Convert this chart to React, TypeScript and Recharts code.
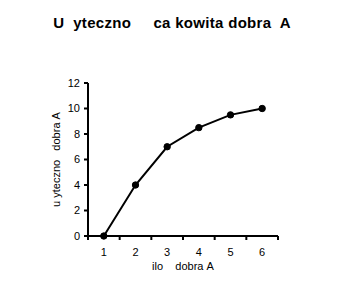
import { LineChart, Line, XAxis, YAxis } from 'recharts';

const quantities = [1, 2, 3, 4, 5, 6];
const utility = [0, 4, 7, 8.5, 9.5, 10];
const yTicks = [0, 2, 4, 6, 8, 10, 12];
const xTicks = [0.5, 1, 1.5, 2, 2.5, 3, 3.5, 4, 4.5, 5, 5.5, 6, 6.5];

const data = quantities.map((q, i) => ({ q, u: utility[i] }));

const font = '"Liberation Sans", Arial, sans-serif';
const nb = (s: string) => s.replace(/ /g, '\u00a0');

const XTick = (props: any) => {
  const { x, y, payload } = props;
  if (Number.isInteger(payload.value)) {
    return (
      <text x={x} y={y + 16} textAnchor="middle" fontSize={11} fontFamily={font} fill="#000">
        {payload.value}
      </text>
    );
  }
  return <line x1={x} x2={x} y1={y - 4} y2={y} stroke="#000" strokeWidth={2} />;
};

export default function App() {
  return (
    <div style={{ position: 'absolute', left: 0, top: 0, width: 344, height: 282, background: '#fff' }}>
      <div
        style={{
          position: 'absolute', left: 0, top: 14, width: 344, textAlign: 'center',
          fontFamily: font, fontWeight: 'bold', fontSize: 15, letterSpacing: 0.3,
          whiteSpace: 'pre', color: '#000', lineHeight: '17px',
        }}
      >
        {'U  yteczno     ca kowita dobra  A'}
      </div>
      <LineChart width={344} height={282} data={data} margin={{ top: 83, right: 66, left: 48, bottom: 16 }}>
        <XAxis
          dataKey="q"
          type="number"
          domain={[0.5, 6.5]}
          ticks={xTicks}
          interval={0}
          tickSize={4}
          tickMargin={0}
          tickLine={false}
          tick={<XTick />}
          height={30}
          axisLine={{ stroke: '#000', strokeWidth: 2 }}
          label={{ value: nb('ilo    dobra A'), position: 'insideBottom', offset: -4, fontSize: 11, fontFamily: font, fill: '#000' }}
        />
        <YAxis
          domain={[0, 12]}
          ticks={yTicks}
          width={40}
          tickSize={4}
          tickMargin={4}
          tick={{ fontSize: 11, fontFamily: font, fill: '#000' }}
          tickLine={{ stroke: '#000', strokeWidth: 2 }}
          axisLine={{ stroke: '#000', strokeWidth: 2 }}
          label={{ value: nb('u yteczno   dobra A'), angle: -90, position: 'insideLeft', offset: 8, fontSize: 11, fontFamily: font, fill: '#000', style: { textAnchor: 'middle' } }}
        />
        <Line
          dataKey="u"
          stroke="#000"
          strokeWidth={2}
          dot={{ r: 3.2, fill: '#000', stroke: '#000', strokeWidth: 1 }}
          isAnimationActive={false}
        />
      </LineChart>
    </div>
  );
}
